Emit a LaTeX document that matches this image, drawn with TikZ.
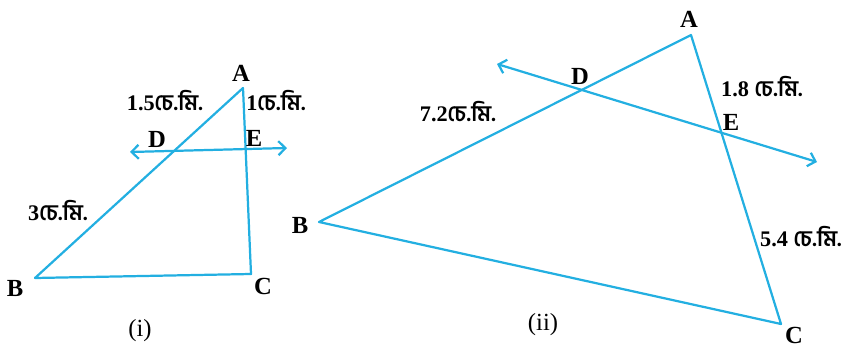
\documentclass[tikz,border=0pt]{standalone}
\usepackage{fontspec}
\setmainfont{Liberation Serif}
\newfontfamily\bnfont[Script=Bengali]{Hind Siliguri}
\usetikzlibrary{arrows.meta,calc}
\definecolor{penblue}{RGB}{35,175,225}
\newcommand{\cmunit}{{\bnfont চে.মি.}}
\tikzset{
  side/.style={draw=penblue, line width=1.9pt, line join=round},
  ray/.style={side, {Straight Barb[length=6pt,width=12pt]}-{Straight Barb[length=6pt,width=12pt]}},
  vlabel/.style={font=\fontsize{21}{24}\selectfont\bfseries, inner sep=0pt},
  mlabel/.style={font=\fontsize{19}{22}\selectfont\bfseries, inner sep=0pt},
  caption/.style={font=\fontsize{21}{24}\selectfont, inner sep=0pt}
}
\begin{document}
\begin{tikzpicture}[x=0.03cm, y=-0.03cm]
    \useasboundingbox (0,0) rectangle (848,347);

    % (i)
    \coordinate (A1) at (243,88);
    \coordinate (B1) at (35,278);
    \coordinate (C1) at (251,274);
    \coordinate (D1) at ($(A1)!0.33!(B1)$);
    \coordinate (E1) at ($(A1)!0.33!(C1)$);
    \coordinate (L1) at (130,152);
    \coordinate (R1) at (287,148);
    \draw[side] (A1) -- (B1) -- (C1) -- cycle;
    \draw[ray] (L1) -- (R1);

    \node[vlabel] (nA1) at (241,73) {A};
    \node[vlabel] (nB1) at (15,288) {B};
    \node[vlabel] (nC1) at (263,286) {C};
    \node[vlabel] (nD1) at (157,139) {D};
    \node[vlabel] (nE1) at (254,138) {E};
    \node[mlabel] (ad1) at (165,101) {1.5\cmunit};
    \node[mlabel] (ae1) at (276,101) {1\cmunit};
    \node[mlabel] (db1) at (58,211) {3\cmunit};
    \node[caption] (cap1) at (140,331) {(i)};

    % (ii)
    \coordinate (A2) at (691,35);
    \coordinate (B2) at (319,222);
    \coordinate (C2) at (781,324);
    \coordinate (D2) at ($(A2)!0.303!(B2)$);
    \coordinate (E2) at ($(A2)!0.338!(C2)$);
    \coordinate (L2) at (497,64);
    \coordinate (R2) at (817,162);
    \draw[side] (A2) -- (B2) -- (C2) -- cycle;
    \draw[ray] (L2) -- (R2);

    \node[vlabel] (nA2) at (689,19) {A};
    \node[vlabel] (nB2) at (300,225) {B};
    \node[vlabel] (nC2) at (794,335) {C};
    \node[vlabel] (nD2) at (580,76) {D};
    \node[vlabel] (nE2) at (731,122) {E};
    \node[mlabel] (ad2) at (458,112) {7.2\cmunit};
    \node[mlabel] (ae2) at (762,87) {1.8 \cmunit};
    \node[mlabel] (ec2) at (801,237) {5.4 \cmunit};
    \node[caption] (cap2) at (543,325) {(ii)};
\end{tikzpicture}
\end{document}
